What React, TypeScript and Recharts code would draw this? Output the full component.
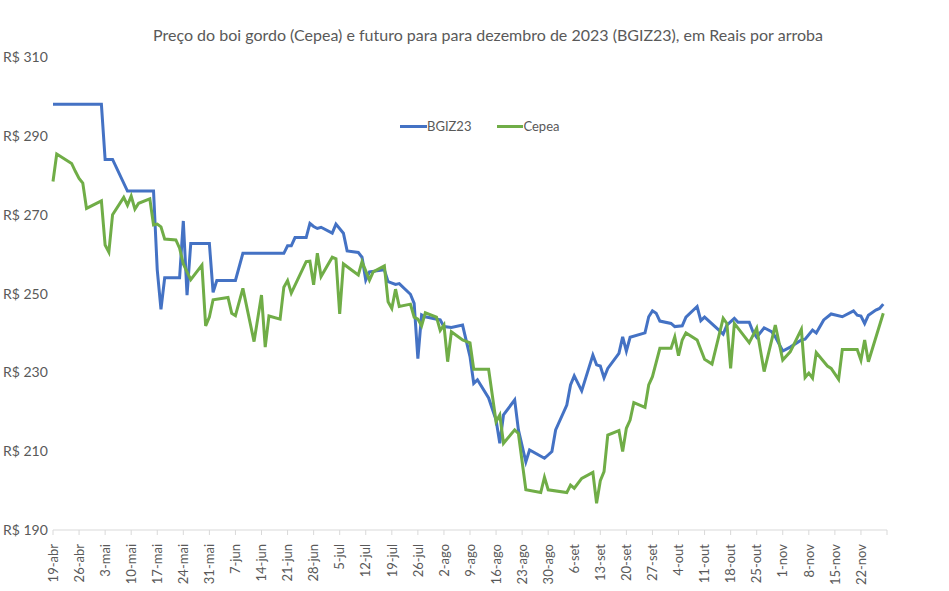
import { LineChart, Line, XAxis, YAxis } from 'recharts';

// Days counted from 19-abr-2023 (date axis, one tick per week)
const bgDays = [
    0, 13, 14, 16, 20, 27, 28, 29, 30, 34, 35, 36, 37, 42, 43, 44, 49, 51, 62, 63, 64, 65, 68, 69, 70, 71, 72,
    75, 76, 78, 79, 82, 83, 84, 85, 89, 90, 92, 93, 96, 97, 98, 99, 100, 104, 105, 107, 110, 112, 113, 114, 117,
    119, 120, 121, 124, 125, 127, 128, 132, 134, 135, 138, 139, 140, 142, 145, 146, 147, 148, 149, 152, 153, 154,
    155, 159, 160, 161, 162, 163, 166, 167, 169, 170, 173, 174, 175, 179, 180, 181, 183, 184, 187, 188, 189, 191,
    193, 194, 196, 198, 201, 202, 204, 205, 207, 209, 212, 215, 216, 217, 218, 219, 221, 222, 223,
];
const bgValues = [
    298, 298, 284, 284, 276, 276, 256, 246, 254, 254, 268.4, 249.6, 262.7, 262.7, 250.3, 253.3, 253.3, 260.2,
    260.2, 262.1, 262.1, 264.2, 264.2, 267.8, 267, 266.5, 266.8, 265.3, 267.6, 265.3, 260.8, 260.4, 259.2, 253.4,
    255.5, 256, 253, 252.3, 252.5, 249.8, 247.5, 233.5, 244.6, 244.1, 243.3, 241.6, 241.4, 242, 234, 227.2, 228.1,
    223.5, 217.9, 212, 219.2, 223, 215.4, 207.3, 210.3, 208.2, 209.9, 215.4, 221.7, 226.8, 229.1, 225.3, 234.4,
    231.9, 231.6, 228.6, 231, 234.8, 239, 235.4, 238.9, 240, 244.1, 245.6, 245, 243, 242.4, 241.6, 241.8, 244,
    246.7, 243.1, 244, 240.6, 239.7, 242, 243.7, 242.7, 242.7, 240.3, 238.9, 241.3, 240.3, 239, 235.4, 236.4,
    238.2, 238.4, 240.7, 240, 243.3, 244.8, 244.1, 245.6, 244.5, 244.3, 242.4, 244.5, 245.8, 246.2, 247.3,
];

const cepeaDays = [
    0, 1, 5, 6, 7, 8, 9, 13, 14, 15, 16, 19, 20, 21, 22, 23, 26, 27, 28, 29, 30, 33, 34, 35, 36, 37, 40, 41, 42,
    43, 47, 48, 49, 51, 54, 56, 57, 58, 61, 62, 63, 64, 68, 69, 70, 71, 72, 75, 76, 77, 78, 82, 83, 85, 86, 89,
    90, 91, 92, 93, 96, 97, 98, 99, 100, 103, 104, 105, 106, 107, 110, 112, 113, 117, 119, 120, 121, 124, 125,
    127, 131, 132, 133, 138, 139, 140, 142, 145, 146, 147, 148, 149, 152, 153, 154, 155, 156, 159, 160, 161, 163,
    166, 167, 168, 169, 170, 173, 175, 177, 180, 181, 182, 183, 187, 189, 191, 194, 196, 198, 201, 202, 203, 204,
    205, 208, 209, 211, 212, 216, 217, 218, 219, 223,
];
const cepeaValues = [
    278.4, 285.4, 283, 281, 279.2, 278, 271.6, 273.5, 262.3, 260.5, 270, 274.4, 272.4, 274.7, 271.4, 272.9, 274,
    267.4, 267.6, 266.9, 263.8, 263.6, 261.5, 257.5, 255.5, 253.5, 257.2, 241.8, 244, 248.4, 249, 245, 244.4,
    251.3, 237.8, 249.6, 236.4, 244.3, 243.5, 251.6, 253.3, 250.1, 258.1, 258.2, 252.2, 260.2, 254.3, 259.2,
    258.8, 244.8, 257.5, 254.7, 258.1, 253.4, 255.5, 257, 247.9, 246.2, 251.1, 246.7, 247.3, 244, 243.5, 241.8,
    245.1, 244, 240.6, 242, 232.7, 240.3, 238.2, 237.5, 230.8, 230.8, 217.5, 219.2, 212, 215.4, 214.5, 200.2,
    199.5, 203.4, 200.2, 199.5, 201.4, 200.6, 203.1, 204.6, 196.8, 202.5, 204.8, 214.1, 215.2, 209.9, 215.8,
    217.9, 222.3, 221.1, 226.8, 228.9, 236.1, 236.1, 239, 234.2, 238.2, 240, 238.2, 233.3, 232.1, 243.7, 242.4,
    231, 242.4, 237.5, 241.2, 230.2, 242, 233.1, 235.2, 240.9, 228.7, 229.8, 228.5, 235, 231.6, 231, 228.2,
    235.8, 235.8, 233.1, 238.2, 232.7, 245,
];

const xTickLabels = [
    '19-abr', '26-abr', '3-mai', '10-mai', '17-mai', '24-mai', '31-mai', '7-jun', '14-jun', '21-jun', '28-jun',
    '5-jul', '12-jul', '19-jul', '26-jul', '2-ago', '9-ago', '16-ago', '23-ago', '30-ago', '6-set', '13-set',
    '20-set', '27-set', '4-out', '11-out', '18-out', '25-out', '1-nov', '8-nov', '15-nov', '22-nov',
];
const yTicks = [190, 210, 230, 250, 270, 290, 310];

const FONT = 'Lato, "Liberation Sans", sans-serif';
const TEXT = '#595959';
const AXIS = '#d9d9d9';
const BLUE = '#4472C4';
const GREEN = '#70AD47';

// merge both series on a shared day axis
const allDays = Array.from(new Set([...bgDays, ...cepeaDays])).sort((a, b) => a - b);
const chartData = allDays.map((day) => {
    const bi = bgDays.indexOf(day);
    const ci = cepeaDays.indexOf(day);
    return {
        day,
        bgiz23: bi >= 0 ? bgValues[bi] : null,
        cepea: ci >= 0 ? cepeaValues[ci] : null,
    };
});

// one tick per week, plus the closing tick at the end of the axis
const xTicks = Array.from({ length: xTickLabels.length + 1 }, (_, i) => i * 7);

const XTick = ({ x, y, payload }: any) => {
    const label = xTickLabels[payload.value / 7] ?? '';
    return (
        <g transform={`translate(${x},${y + 7})`}>
            <text transform="rotate(-90)" textAnchor="end" dy="0.36em" fontSize={13} fill={TEXT} fontFamily={FONT}>
                {label}
            </text>
        </g>
    );
};

const YTick = ({ y, payload }: any) => (
    <text x={3} y={y} dy="0.36em" textAnchor="start" fontSize={14} fill={TEXT} fontFamily={FONT}>
        {`R$ ${payload.value}`}
    </text>
);

export default function App() {
    return (
        <div style={{ position: 'absolute', left: 0, top: 0, width: 949, height: 591, background: 'white' }}>
            <div style={{
                position: 'absolute', top: 25, left: 88, width: 800, textAlign: 'center',
                fontFamily: FONT, fontSize: 16, color: TEXT, whiteSpace: 'nowrap'
            }}>
                Preço do boi gordo (Cepea) e futuro para para dezembro de 2023 (BGIZ23), em Reais por arroba
            </div>
            <div style={{
                position: 'absolute', top: 118, left: 400, display: 'flex', alignItems: 'center',
                fontFamily: FONT, fontSize: 13, color: TEXT
            }}>
                <span style={{ width: 27, height: 3, background: BLUE, display: 'inline-block' }} />
                <span style={{ marginRight: 26 }}>BGIZ23</span>
                <span style={{ width: 26, height: 3, background: GREEN, display: 'inline-block' }} />
                <span>Cepea</span>
            </div>
            <LineChart width={949} height={591} data={chartData} margin={{ top: 57, right: 62, bottom: 6, left: 8 }}>
                <XAxis
                    type="number"
                    dataKey="day"
                    domain={[0, 224]}
                    ticks={xTicks}
                    interval={0}
                    tick={<XTick />}
                    tickSize={5}
                    tickLine={{ stroke: AXIS }}
                    axisLine={{ stroke: AXIS }}
                    height={55}
                />
                <YAxis
                    domain={[190, 310]}
                    ticks={yTicks}
                    interval={0}
                    width={45}
                    axisLine={false}
                    tickLine={false}
                    tick={<YTick />}
                />
                <Line
                    dataKey="bgiz23"
                    name="BGIZ23"
                    type="linear"
                    stroke={BLUE}
                    strokeWidth={3}
                    dot={false}
                    connectNulls
                    isAnimationActive={false}
                />
                <Line
                    dataKey="cepea"
                    name="Cepea"
                    type="linear"
                    stroke={GREEN}
                    strokeWidth={3}
                    dot={false}
                    connectNulls
                    isAnimationActive={false}
                />
            </LineChart>
        </div>
    );
}
